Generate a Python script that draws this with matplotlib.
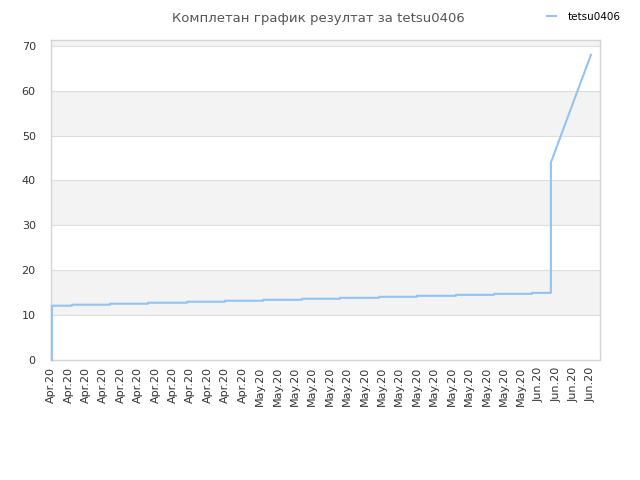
import matplotlib
matplotlib.use('Agg')
import matplotlib.pyplot as plt
import numpy as np

# x labels (one per tick position)
x_labels = ['Apr.20'] * 12 + ['May.20'] * 16 + ['Jun.20'] * 4

# stepped part of the series: x in tick-index units, value held until the next x
step_x = [0.05, 1.2, 3.39, 5.57, 7.81, 9.99, 12.17, 14.41, 16.59, 18.83,
          21.01, 23.25, 25.43, 27.61]
step_y = [12.1, 12.32, 12.54, 12.76, 12.98, 13.2, 13.42, 13.64, 13.86,
          14.08, 14.3, 14.52, 14.74, 14.96]
# jump and final ramp
jump_x = 28.7
ramp_x = [28.7, 31.0]
ramp_y = [44.0, 68.0]
start_y = 0.0

series_name = 'tetsu0406'
title = 'Комплетан график резултат за tetsu0406'

# build polyline
xs = [step_x[0]]
ys = [start_y]
for i, (x, y) in enumerate(zip(step_x, step_y)):
  xs.append(x)
  ys.append(y)
  nx = step_x[i + 1] if i + 1 < len(step_x) else jump_x
  xs.append(nx)
  ys.append(y)
xs += ramp_x
ys += ramp_y

fig = plt.figure(figsize=(6.4, 4.8), dpi=100)
ax = fig.add_axes([51 / 640, 120 / 480, 549 / 640, 320 / 480])

ymax = 71.3
# alternating bands
for lo in range(0, 80, 10):
  if (lo // 10) % 2 == 1:
    ax.axhspan(lo, min(lo + 10, ymax), color='#f3f3f3', zorder=0, lw=0)
for v in range(10, 80, 10):
  ax.axhline(v, color='#dddddd', lw=0.8, zorder=1)

ax.plot(xs, ys, color='#92c3f2', lw=1.5, zorder=5, clip_on=False, label=series_name)

ax.set_xlim(0, 31.52)
ax.set_ylim(0, ymax)
ax.set_yticks(range(0, 80, 10))
ax.set_xticks(range(len(x_labels)))
ax.set_xticklabels(x_labels, rotation=90)
ax.tick_params(axis='both', length=0, labelsize=8, colors='#333333')
ax.tick_params(axis='y', pad=11)
ax.tick_params(axis='x', pad=5)
for s in ax.spines.values():
  s.set_color('#d4d4d4')
  s.set_linewidth(1)

fig.text(0.497, 0.975, title, ha='center', va='top', fontsize=9.5, color='#555555')
fig.legend(loc='upper right', bbox_to_anchor=(0.985, 0.995), frameon=False,
           fontsize=7.5, handlelength=0.8, handletextpad=1.2)

fig.savefig('out.png', dpi=100)
